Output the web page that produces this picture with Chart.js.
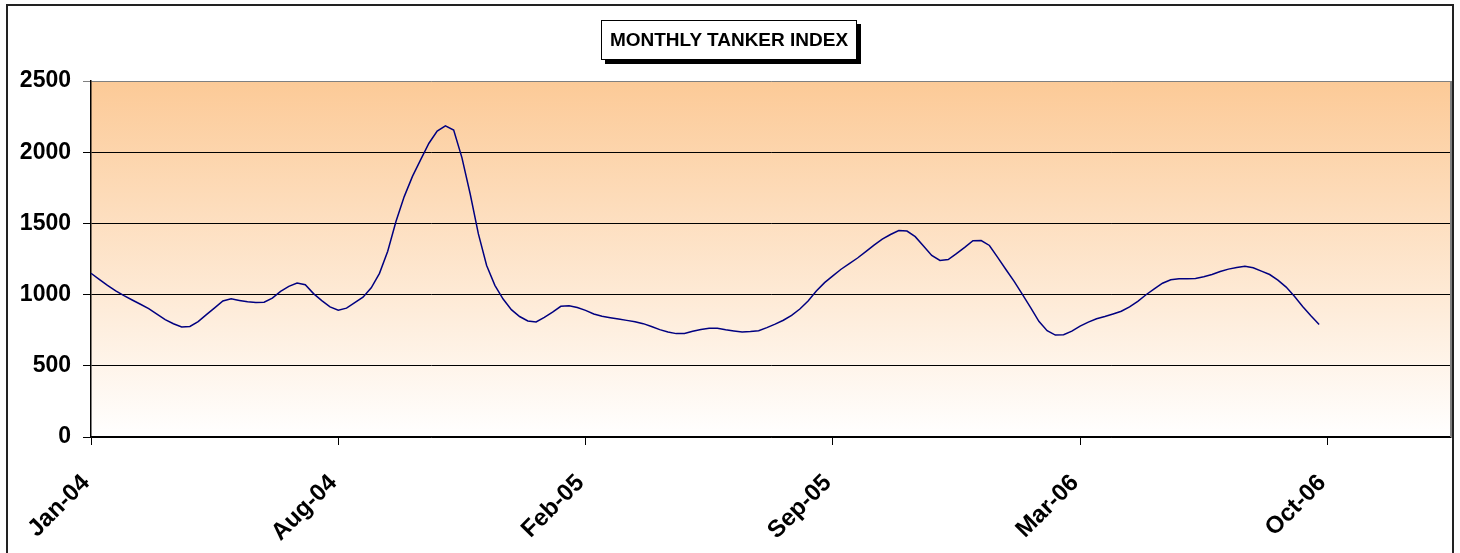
<!DOCTYPE html>
<html>
<head>
<meta charset="utf-8">
<script src="https://cdn.jsdelivr.net/npm/chart.js@4"></script>
<style>
    html, body { margin: 0; padding: 0; background: #fff; }
    #wrap { position: relative; width: 1460px; height: 553px; overflow: hidden; }
    #frame { position: absolute; left: 6px; top: 4px; width: 1448px; height: 600px; border: 2px solid #222; box-sizing: border-box; pointer-events: none; }
    #title {
        position: absolute; left: 601px; top: 20px; width: 256px; height: 40px;
        border: 1px solid #000; box-sizing: border-box; background: #fff;
        box-shadow: 4px 4px 0 #000;
        font: bold 19px "Liberation Sans", Arial, sans-serif;
        line-height: 38px; text-align: center; color: #000;
    }
</style>
</head>
<body>
<div id="wrap">
    <canvas id="chart" width="1460" height="553"></canvas>
    <div id="frame"></div>
    <div id="title">MONTHLY TANKER INDEX</div>
</div>
<script>
// Weekly index values (Jan-04 .. Oct-06)
const indexValues = [
    1150, 1107, 1065, 1026, 993, 962, 932, 901, 863, 824,
    795, 772, 776, 810, 859, 907, 955, 970, 959, 949,
    944, 947, 975, 1023, 1058, 1081, 1069, 1007, 958, 914,
    891, 905, 943, 982, 1048, 1149, 1305, 1513, 1688, 1830,
    1948, 2063, 2148, 2185, 2156, 1962, 1708, 1426, 1204, 1065,
    969, 894, 846, 815, 808, 840, 877, 918, 922, 909,
    889, 864, 848, 838, 828, 819, 810, 796, 776, 754,
    738, 726, 727, 742, 755, 763, 764, 753, 745, 738,
    741, 746, 768, 793, 820, 854, 899, 955, 1025, 1084,
    1132, 1178, 1218, 1257, 1302, 1347, 1389, 1422, 1450, 1446,
    1407, 1341, 1275, 1240, 1246, 1288, 1332, 1379, 1380, 1345,
    1261, 1176, 1093, 1001, 908, 812, 747, 716, 718, 743,
    779, 807, 830, 846, 864, 883, 914, 953, 999, 1040,
    1080, 1104, 1112, 1112, 1113, 1125, 1141, 1162, 1179, 1191,
    1199, 1189, 1165, 1141, 1102, 1053, 989, 917, 851, 790
];

// Axis tick labels, one every 30 weeks
const tickLabels = ['Jan-04', 'Aug-04', 'Feb-05', 'Sep-05', 'Mar-06', 'Oct-06'];
const tickEvery = 30;
const axisLength = 166; // categories on the axis (blank ones after the last value)

const categories = [];
const seriesData = [];
for (let i = 0; i < axisLength; i++) {
    categories.push(i % tickEvery === 0 && tickLabels[i / tickEvery] ? tickLabels[i / tickEvery] : '');
    seriesData.push(i < indexValues.length ? indexValues[i] : null);
}

const fontFamily = '"Liberation Sans", Arial, sans-serif';

// Orange-to-white plot background + gray right border
const plotBackground = {
    id: 'plotBackground',
    beforeDraw(chart) {
        const { ctx, chartArea: a } = chart;
        const g = ctx.createLinearGradient(0, a.top, 0, a.bottom);
        g.addColorStop(0, '#FCCA97');
        g.addColorStop(1, '#FFFFFF');
        ctx.save();
        ctx.fillStyle = g;
        ctx.fillRect(a.left, a.top, a.right - a.left, a.bottom - a.top);
        ctx.restore();
    },
    afterDraw(chart) {
        const { ctx, chartArea: a } = chart;
        ctx.save();
        ctx.strokeStyle = '#808080';
        ctx.lineWidth = 2;
        ctx.beginPath();
        ctx.moveTo(a.right, a.top);
        ctx.lineTo(a.right, a.bottom);
        ctx.stroke();
        ctx.restore();
    }
};

const ctx = document.getElementById('chart').getContext('2d');
new Chart(ctx, {
    type: 'line',
    data: {
        labels: categories,
        datasets: [{
            label: 'Monthly Tanker Index',
            data: seriesData,
            borderColor: '#000080',
            borderWidth: 1.5,
            pointRadius: 0,
            tension: 0,
            fill: false,
            spanGaps: false
        }]
    },
    options: {
        responsive: false,
        animation: false,
        layout: { padding: { top: 81, right: 9, left: 0, bottom: 0 } },
        plugins: {
            legend: { display: false },
            tooltip: { enabled: false },
            title: { display: false }
        },
        scales: {
            x: {
                type: 'category',
                offset: false,
                grid: {
                    display: true,
                    drawOnChartArea: false,
                    drawTicks: true,
                    tickLength: 8,
                    color: '#000'
                },
                border: { color: '#000', width: 1.5 },
                ticks: {
                    autoSkip: false,
                    maxRotation: 45,
                    minRotation: 45,
                    padding: 24,
                    labelOffset: -5,
                    color: '#000',
                    font: { family: fontFamily, weight: 'bold', size: 24 },
                    callback: function (value) {
                        const l = this.getLabelForValue(value);
                        return l === '' ? null : l;
                    }
                },
                afterFit: (scale) => { scale.height = 116; }
            },
            y: {
                min: 0,
                max: 2500,
                grid: {
                    color: (c) => c.tick && c.tick.value === 2500 ? '#808080' : '#000',
                    lineWidth: 1,
                    tickLength: 8
                },
                border: { color: '#000', width: 1.5 },
                ticks: {
                    stepSize: 500,
                    padding: 12,
                    color: '#000',
                    font: { family: fontFamily, weight: 'bold', size: 23 },
                    callback: (v) => String(v)
                },
                afterFit: (scale) => { scale.width = 91; }
            }
        }
    },
    plugins: [plotBackground]
});
</script>
</body>
</html>
